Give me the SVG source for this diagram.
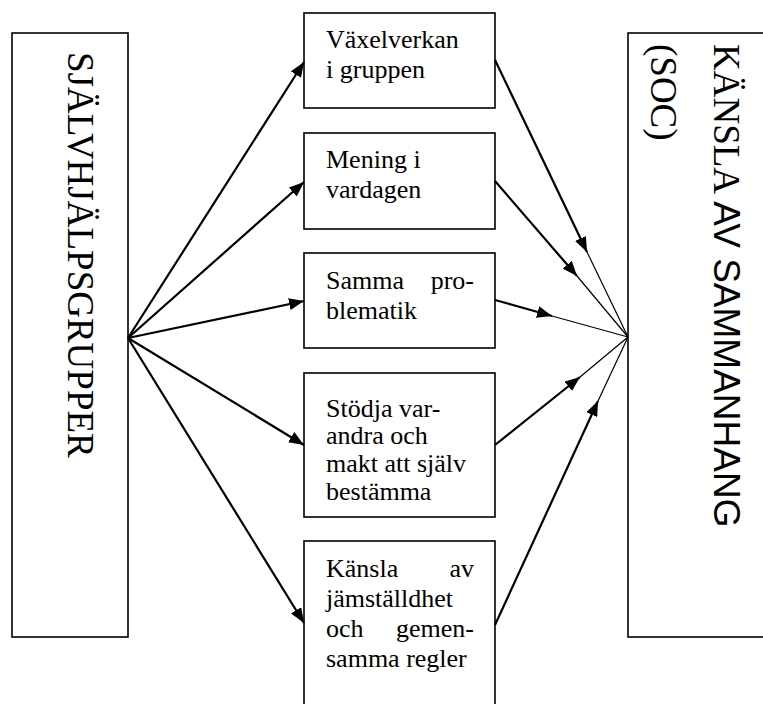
<svg xmlns="http://www.w3.org/2000/svg" width="763" height="704" viewBox="0 0 763 704">
<style>
.box{fill:#fff;stroke:#000;stroke-width:1.6}
.t{font-family:"Liberation Serif","Times New Roman",serif;font-size:26px;fill:#000}
.big{font-family:"Liberation Serif","Times New Roman",serif;font-size:37px;fill:#000}
.sans{font-family:"Liberation Sans",Arial,sans-serif}
.thick{stroke:#000;stroke-width:2.2;fill:none}
.thin{stroke:#000;stroke-width:1.2;fill:none}
</style>
<defs>
<marker id="ah" markerUnits="userSpaceOnUse" markerWidth="16" markerHeight="12" refX="15" refY="6" orient="auto">
<path d="M0,0 L15,6 L0,12 Z" fill="#000"/>
</marker>
</defs>
<rect width="763" height="704" fill="#fff"/>
<g id="left">
<rect class="box" x="12" y="33" width="116" height="604"/>
<text class="big" transform="translate(68,52) rotate(90)">SJÄLVHJÄLPSGRUPPER</text>
</g>
<g id="right">
<rect class="box" x="628" y="33" width="140" height="604"/>
<text class="big" font-size="35" transform="translate(714,44) rotate(90)">KÄNSLA <tspan class="sans">AV SAMMANHANG</tspan></text>
<text class="big" font-size="35" transform="translate(651,44) rotate(90)">(SOC)</text>
</g>
<g id="n1">
<rect class="box" x="304" y="13" width="191" height="95"/>
<text class="t" x="326" y="48">Växelverkan</text>
<text class="t" x="326" y="78">i gruppen</text>
</g>
<g id="n2">
<rect class="box" x="304" y="133" width="191" height="96"/>
<text class="t" x="326" y="168">Mening i</text>
<text class="t" x="326" y="198">vardagen</text>
</g>
<g id="n3">
<rect class="box" x="304" y="253" width="191" height="95"/>
<text class="t" x="326" y="289">Samma</text>
<text class="t" x="474" y="289" text-anchor="end">pro-</text>
<text class="t" x="326" y="319">blematik</text>
</g>
<g id="n4">
<rect class="box" x="304" y="373" width="191" height="144"/>
<text class="t" x="326" y="417">Stödja var-</text>
<text class="t" x="326" y="444">andra och</text>
<text class="t" x="326" y="472">makt att själv</text>
<text class="t" x="326" y="500">bestämma</text>
</g>
<g id="n5">
<rect class="box" x="304" y="541" width="191" height="170"/>
<text class="t" x="326" y="577">Känsla</text>
<text class="t" x="474" y="577" text-anchor="end">av</text>
<text class="t" x="326" y="607">jämställdhet</text>
<text class="t" x="326" y="637">och</text>
<text class="t" x="474" y="637" text-anchor="end">gemen-</text>
<text class="t" x="326" y="667">samma regler</text>
</g>
<g id="connectors">
<line class="thick" x1="128" y1="338" x2="304" y2="62" marker-end="url(#ah)"/>
<line class="thick" x1="128" y1="338" x2="304" y2="182" marker-end="url(#ah)"/>
<line class="thick" x1="128" y1="338" x2="304" y2="301" marker-end="url(#ah)"/>
<line class="thick" x1="128" y1="338" x2="304" y2="445" marker-end="url(#ah)"/>
<line class="thick" x1="128" y1="338" x2="304" y2="623" marker-end="url(#ah)"/>
<line class="thick" x1="495" y1="60" x2="587" y2="252" marker-end="url(#ah)"/>
<line class="thin" x1="587" y1="252" x2="628" y2="337"/>
<line class="thick" x1="495" y1="181" x2="577" y2="276" marker-end="url(#ah)"/>
<line class="thin" x1="577" y1="276" x2="628" y2="337"/>
<line class="thick" x1="495" y1="300" x2="552" y2="316" marker-end="url(#ah)"/>
<line class="thin" x1="552" y1="316" x2="628" y2="337"/>
<line class="thick" x1="495" y1="445" x2="580" y2="377" marker-end="url(#ah)"/>
<line class="thin" x1="580" y1="377" x2="628" y2="337"/>
<line class="thick" x1="495" y1="625" x2="598" y2="401" stroke-width="3" marker-end="url(#ah)"/>
<line class="thin" x1="598" y1="401" x2="628" y2="337"/>
</g>
</svg>
